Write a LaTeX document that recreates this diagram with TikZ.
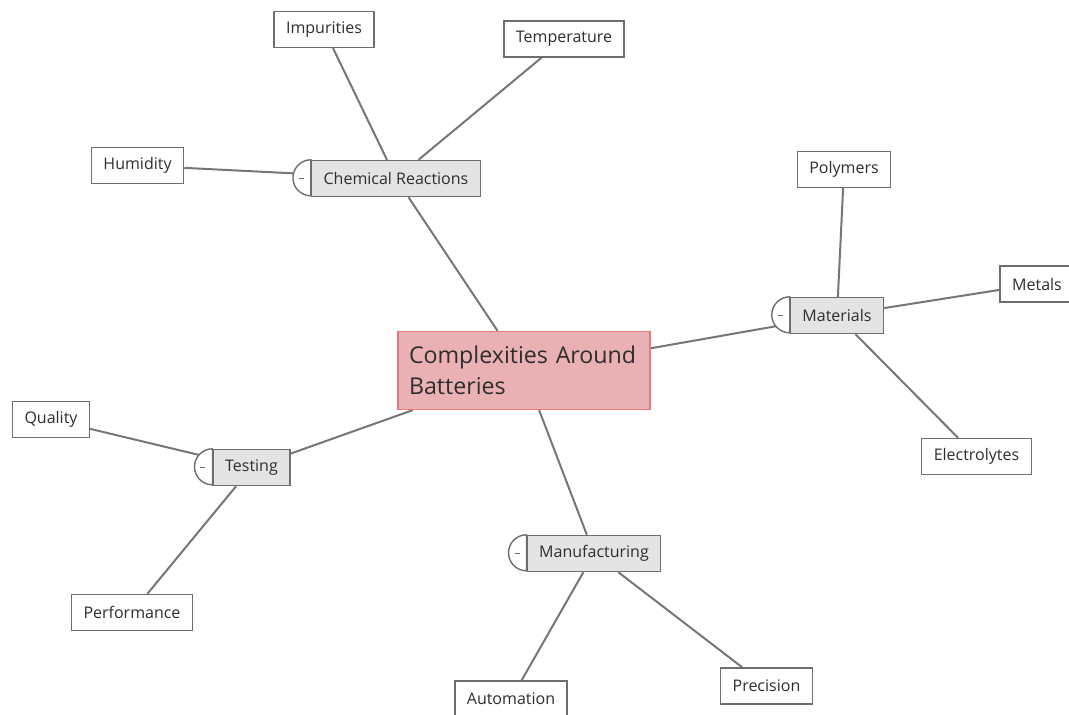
\documentclass[tikz,border=0pt]{standalone}
\usepackage{fontspec}
\setmainfont{Open Sans}
\usetikzlibrary{backgrounds}

\definecolor{linkgray}{HTML}{767676}
\definecolor{boxgray}{HTML}{6E6E6E}
\definecolor{branchfill}{HTML}{E4E4E4}
\definecolor{rootfill}{HTML}{E9B1B3}
\definecolor{rootline}{HTML}{E07C7E}
\definecolor{textgray}{HTML}{2E2E2E}

\tikzset{
	leaf/.style={draw=boxgray, line width=1.4pt, fill=white, text=textgray,
		inner xsep=12pt, minimum height=36pt, font=\fontsize{16}{18}\selectfont},
	branch/.style={leaf, fill=branchfill},
	root/.style={draw=rootline, line width=1.2pt, fill=rootfill, text=textgray,
		align=left, text width=230pt, inner xsep=11pt, minimum height=78pt,
		font=\fontsize{23.2}{31}\selectfont},
	link/.style={draw=linkgray, line width=2pt},
	button/.style={draw=boxgray, line width=1.4pt, fill=white}
}

% the little collapse button left of a branch box
\newcommand{\collapser}[1]{
	\draw[button] (#1.north west) arc[start angle=90, end angle=270, radius=18pt] -- cycle;
	\draw[boxgray, line width=1pt] ([xshift=-12pt]#1.west) -- ++(5,0);
}

\begin{document}
\begin{tikzpicture}[x=1pt,y=-1pt]
	\useasboundingbox (0,0) rectangle (1069,715);
	\clip (0,0) rectangle (1069,715);

	% centre
	\node[root] (root) at (524,370.5) {Complexities Around\\Batteries};

	% branches
	\node[branch] (chem) at (396,178.5) {Chemical Reactions};
	\node[branch] (materials) at (837,315.5) {Materials};
	\node[branch] (testing) at (251.5,467.5) {Testing};
	\node[branch] (manufacturing) at (594,553.5) {Manufacturing};

	\foreach \b in {chem,materials,testing,manufacturing}
	{
		\collapser{\b}
	}

	% leaves
	\node[leaf] (impurities) at (324,29.5) {Impurities};
	\node[leaf] (temperature) at (564,39) {Temperature};
	\node[leaf] (humidity) at (137.5,165.5) {Humidity};

	\node[leaf] (polymers) at (844,169.5) {Polymers};
	\node[leaf] (metals) at (1037,284) {Metals};
	\node[leaf] (electrolytes) at (976.5,456.5) {Electrolytes};

	\node[leaf] (quality) at (51,419.5) {Quality};
	\node[leaf] (performance) at (132,612.5) {Performance};

	\node[leaf] (automation) at (511,699) {Automation};
	\node[leaf] (precision) at (766.5,686) {Precision};

	\begin{scope}[on background layer]
		\foreach \a/\b in {root/chem,root/materials,root/testing,root/manufacturing,
			chem/impurities,chem/temperature,chem/humidity,
			materials/polymers,materials/metals,materials/electrolytes,
			testing/quality,testing/performance,
			manufacturing/automation,manufacturing/precision}
		{
			\draw[link] (\a) -- (\b);
		}
	\end{scope}
\end{tikzpicture}
\end{document}
